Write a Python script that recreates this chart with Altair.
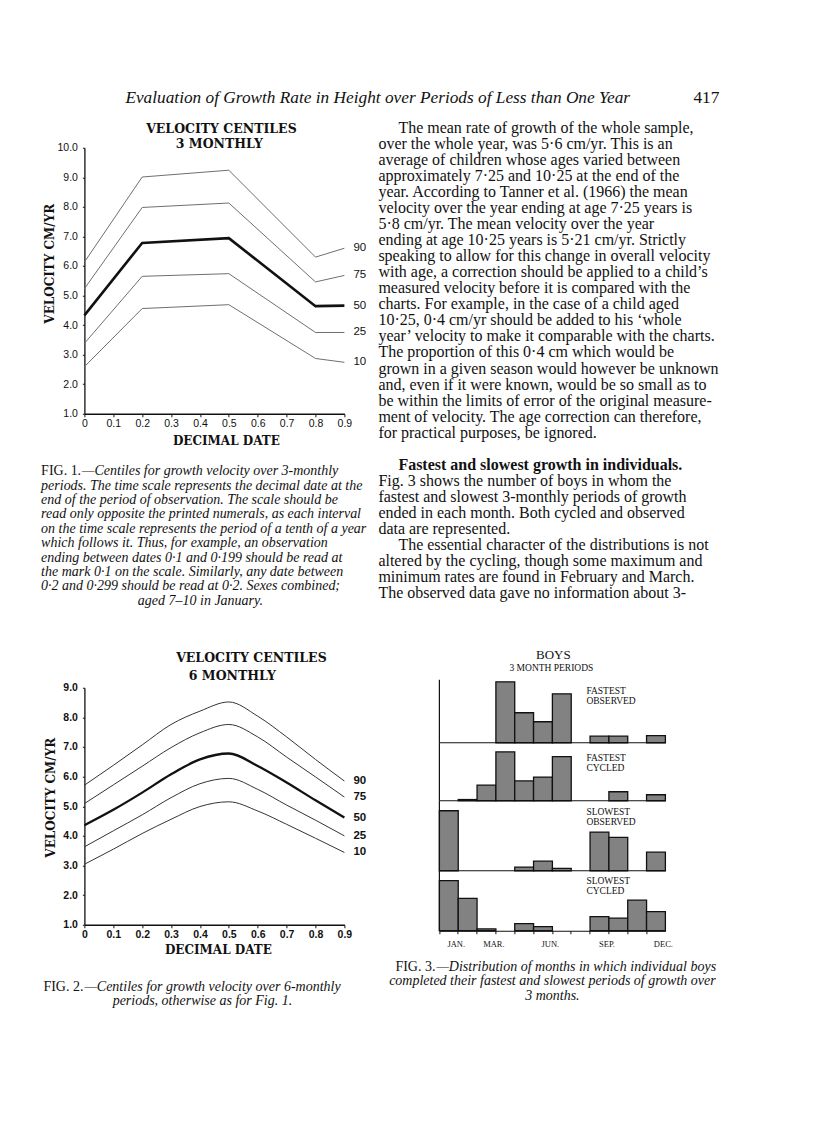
import altair as alt
import pandas as pd

SERIF = "Liberation Serif"
SANS = "Liberation Sans"
WIDE = "DejaVu Serif"
INK = "#111111"

# ---------------- page text ----------------
header_title = "Evaluation of Growth Rate in Height over Periods of Less than One Year"
page_number = "417"

body_lines = [
    "The mean rate of growth of the whole sample,",
    "over the whole year, was 5·6 cm/yr.  This is an",
    "average of children whose ages varied between",
    "approximately 7·25 and 10·25 at the end of the",
    "year.  According to Tanner et al. (1966) the mean",
    "velocity over the year ending at age 7·25 years is",
    "5·8 cm/yr.  The mean velocity over the year",
    "ending at age 10·25 years is 5·21 cm/yr.  Strictly",
    "speaking to allow for this change in overall velocity",
    "with age, a correction should be applied to a child’s",
    "measured velocity before it is compared with the",
    "charts.  For example, in the case of a child aged",
    "10·25, 0·4 cm/yr should be added to his ‘whole",
    "year’ velocity to make it comparable with the charts.",
    "The proportion of this 0·4 cm which would be",
    "grown in a given season would however be unknown",
    "and, even if it were known, would be so small as to",
    "be within the limits of error of the original measure-",
    "ment of velocity.  The age correction can therefore,",
    "for practical purposes, be ignored.",
    "",
    "Fastest and slowest growth in individuals.",
    "Fig. 3 shows the number of boys in whom the",
    "fastest and slowest 3-monthly periods of growth",
    "ended in each month.  Both cycled and observed",
    "data are represented.",
    "The essential character of the distributions is not",
    "altered by the cycling, though some maximum and",
    "minimum rates are found in February and March.",
    "The observed data gave no information about 3-",
]
body_para_starts = [0, 21, 26]
body_heading = [21]

caption1_lead = "FIG. 1."
caption1_lines = [
    "—Centiles for growth velocity over 3-monthly",
    "periods.  The time scale represents the decimal date at the",
    "end of the period of observation.  The scale should be",
    "read only opposite the printed numerals, as each interval",
    "on the time scale represents the period of a tenth of a year",
    "which follows it.  Thus, for example, an observation",
    "ending between dates 0·1 and 0·199 should be read at",
    "the mark 0·1 on the scale.  Similarly, any date between",
    "0·2 and 0·299 should be read at 0·2.  Sexes combined;",
    "aged 7–10 in January.",
]
caption2_lead = "FIG. 2."
caption2_lines = [
    "—Centiles for growth velocity over 6-monthly",
    "periods, otherwise as for Fig. 1.",
]
caption3_lead = "FIG. 3."
caption3_lines = [
    "—Distribution of months in which individual boys",
    "completed their fastest and slowest periods of growth over",
    "3 months.",
]

# ---------------- figure 1 & 2 data ----------------
centiles = [90, 75, 50, 25, 10]
fig1_title = ["VELOCITY  CENTILES", "3  MONTHLY"]
fig2_title = ["VELOCITY  CENTILES", "6  MONTHLY"]
y_title = "VELOCITY  CM/YR"
x_title = "DECIMAL  DATE"

dates_3m = [0.0, 0.2, 0.5, 0.8, 0.9]
vel_3m = [
    [6.13, 9.01, 9.24, 6.30, 6.60],   # 90
    [5.23, 7.98, 8.13, 5.46, 5.68],   # 75
    [4.33, 6.78, 6.94, 4.64, 4.66],   # 50
    [3.38, 5.65, 5.74, 3.75, 3.75],   # 25
    [2.59, 4.56, 4.69, 2.87, 2.74],   # 10
]

dates_6m = [0.0, 0.1, 0.2, 0.3, 0.4, 0.5, 0.6, 0.7, 0.8, 0.9]
vel_6m = [
    [5.71, 6.38, 7.07, 7.76, 8.21, 8.52, 8.04, 7.34, 6.58, 5.85],  # 90
    [5.09, 5.72, 6.35, 6.98, 7.48, 7.76, 7.34, 6.66, 5.99, 5.31],  # 75
    [4.36, 4.88, 5.46, 6.08, 6.58, 6.78, 6.36, 5.80, 5.20, 4.62],  # 50
    [3.63, 4.17, 4.71, 5.29, 5.76, 5.94, 5.57, 5.04, 4.53, 4.00],  # 25
    [3.04, 3.55, 4.08, 4.56, 4.99, 5.15, 4.84, 4.39, 3.92, 3.44],  # 10
]
x_ticks = [0.0, 0.1, 0.2, 0.3, 0.4, 0.5, 0.6, 0.7, 0.8, 0.9]

# ---------------- figure 3 data ----------------
fig3_title = ["BOYS", "3 MONTH PERIODS"]
months = ["JAN.", "FEB.", "MAR.", "APR.", "MAY", "JUN.", "JUL.", "AUG.", "SEP.", "OCT.", "NOV.", "DEC."]
month_labels = ["JAN.", "MAR.", "JUN.", "SEP.", "DEC."]
panel_names = [["FASTEST", "OBSERVED"], ["FASTEST", "CYCLED"], ["SLOWEST", "OBSERVED"], ["SLOWEST", "CYCLED"]]
fastest_observed = [0, 0, 0, 20.3, 10.0, 7.0, 16.3, 0, 2.2, 2.2, 0, 2.4]
fastest_cycled = [0, 0.4, 5.2, 16.3, 6.6, 7.9, 14.7, 0, 0, 3.0, 0, 2.0]
slowest_observed = [20.0, 0, 0, 0, 1.2, 3.2, 0.8, 0, 12.9, 11.1, 0, 6.2]
slowest_cycled = [16.7, 10.8, 0.6, 0, 2.4, 1.4, 0, 0, 4.7, 4.2, 10.2, 6.4]


# ---------------- helpers ----------------
def one_text(t, x, y, size, font=SERIF, style="normal", weight="normal", align="center", angle=0):
    kw = dict(align=align, baseline="middle", font=font, fontSize=size,
              fontStyle=style, fontWeight=weight, color=INK)
    if angle:
        kw["angle"] = angle
    return alt.Chart(pd.DataFrame({"t": [t]})).mark_text(**kw).encode(
        text="t:N", x=alt.value(x), y=alt.value(y))


def caption_layers(lead, lines, y0, lh, x_left, lead_w, x_center, centered_from, size=14):
    """Caption: first line = upright lead + italic remainder; later lines left or centred."""
    out = [one_text(lead, x_left, y0, size, align="left"),
           one_text(lines[0], x_left + lead_w, y0, size, style="italic", align="left")]
    for i in range(1, len(lines)):
        if i >= centered_from:
            out.append(one_text(lines[i], x_center, y0 + i * lh, size, style="italic"))
        else:
            out.append(one_text(lines[i], x_left, y0 + i * lh, size, style="italic", align="left"))
    return out


def centile_df(dates, series):
    rows = []
    for c, vals in zip(centiles, series):
        for d, v in zip(dates, vals):
            rows.append({"date": d, "v": v, "c": c})
    return pd.DataFrame(rows)


def centile_chart(dates, series, ymax, h, thin_color, thin_w, thick_w, weight, interp,
                  titles, title_x, title_y, ytitle_xy, xtitle_xy, extra):
    df = centile_df(dates, series)
    xenc = alt.X("date:Q", scale=alt.Scale(domain=[0, 0.9], nice=False, zero=False),
                 axis=alt.Axis(values=x_ticks, title=None, grid=False,
                               labelExpr="datum.value == 0 ? '0' : format(datum.value, '.1f')",
                               labelFlush=False, labelOverlap=False,
                               domainColor=INK, domainWidth=1.3, tickColor=INK, tickSize=3,
                               labelFont=SANS, labelFontSize=10.5, labelFontWeight=weight,
                               labelColor=INK, labelPadding=2))
    yenc = alt.Y("v:Q", scale=alt.Scale(domain=[1, ymax], nice=False, zero=False),
                 axis=alt.Axis(values=list(range(1, ymax + 1)), format=".1f", title=None, grid=False,
                               domainColor=INK, domainWidth=1.3, tickColor=INK, tickSize=2,
                               labelFont=SANS, labelFontSize=10.5, labelFontWeight=weight,
                               labelColor=INK, labelPadding=5))
    base = alt.Chart(df)
    thin = base.transform_filter("datum.c != 50").mark_line(
        color=thin_color, strokeWidth=thin_w, interpolate=interp).encode(x=xenc, y=yenc, detail="c:N")
    thick = base.transform_filter("datum.c == 50").mark_line(
        color=INK, strokeWidth=thick_w, interpolate=interp).encode(x=xenc, y=yenc)
    labels = base.transform_filter("datum.date == 0.9").mark_text(
        align="left", baseline="middle", dx=9, font=SANS, fontSize=11.5, fontWeight=weight,
        color=INK).encode(x=xenc, y=yenc, text="c:N")
    layers = [thin, thick, labels,
              one_text(titles[0], title_x[0], title_y[0], 12.5, font=WIDE, weight="bold"),
              one_text(titles[1], title_x[1], title_y[1], 12.5, font=WIDE, weight="bold"),
              one_text(y_title, ytitle_xy[0], ytitle_xy[1], 12, font=WIDE, weight="bold", angle=270),
              one_text(x_title, xtitle_xy[0], xtitle_xy[1], 12, font=WIDE, weight="bold")] + extra
    return alt.layer(*layers).properties(width=260, height=h)


BAND = 226 / 12
x_month = alt.X("m:N", sort=months,
                scale=alt.Scale(domain=months, paddingInner=0, paddingOuter=0),
                axis=alt.Axis(title=None, grid=False, domainColor=INK, domainWidth=1.2, tickColor=INK,
                              tickSize=3, bandPosition=0, labelOffset=BAND / 2 - 2,
                              labelExpr="indexof(" + str(month_labels) + ", datum.value) >= 0 ? datum.value : ''",
                              labelFont=SERIF, labelFontSize=8.5, labelColor=INK, labelPadding=6,
                              labelAngle=0))


def panel(values, ymax, base_px, top_px, with_baseline):
    df = pd.DataFrame({"m": months, "n": values})
    ysc = alt.Scale(domain=[0, ymax], range=[base_px, top_px], nice=False, zero=True)
    one = alt.Chart(pd.DataFrame({"k": [0]}))
    bars = alt.Chart(df).transform_filter("datum.n > 0").mark_bar(
        fill="#828282", stroke=INK, strokeWidth=1.3).encode(
        x=x_month, y=alt.Y("n:Q", scale=ysc, axis=None))
    edge = one.mark_rule(color=INK, strokeWidth=1.2).encode(
        x=alt.value(0), y=alt.datum(0), y2=alt.datum(ymax))
    layers = [bars, edge]
    if with_baseline:
        layers.append(one.mark_rule(color=INK, strokeWidth=1.2).encode(
            x=alt.value(0), x2=alt.value(226), y=alt.datum(0)))
    return alt.layer(*layers)


# ---------------- row 0 ----------------
header_layers = [one_text(header_title, 41, -50, 17.3, style="italic", align="left"),
                 one_text(page_number, 609, -50, 17.3, align="left")]
cap1 = caption_layers(caption1_lead, caption1_lines, 323.7, 14.35, -43.3, 41, 116, len(caption1_lines) - 1)
fig1 = centile_chart(dates_3m, vel_3m, 10, 266, "#6e6e6e", 1.0, 2.6, "normal", "linear",
                     fig1_title, (137, 135), (-19, -4), (-34, 116), (142, 293),
                     header_layers + cap1)

nb = len(body_lines)
plain_flush = [i for i in range(nb) if i not in body_para_starts and body_lines[i]]
plain_indent = [i for i in body_para_starts if i not in body_heading]


def body_block(idx, x, weight="normal"):
    df = pd.DataFrame({"t": [body_lines[i] for i in idx], "i": idx})
    return alt.Chart(df).mark_text(
        align="left", baseline="middle", font=SERIF, fontSize=16, fontWeight=weight, color=INK,
    ).encode(
        text="t:N", x=alt.value(x),
        y=alt.Y("i:Q", scale=alt.Scale(domain=[0, nb - 1], range=[-20, -20 + (nb - 1) * 16.05]), axis=None),
    )


body = alt.layer(
    body_block(plain_flush, -61),
    body_block(plain_indent, -41),
    body_block(body_heading, -41, weight="bold"),
).properties(width=226, height=266)

# ---------------- row 1 ----------------
cap2 = caption_layers(caption2_lead, caption2_lines, 299, 14.5, -41, 41, 118, 1)
fig2 = centile_chart(dates_6m, vel_6m, 9, 237, "#333333", 1.0, 2.3, "bold", "monotone",
                     fig2_title, (167, 148), (-30, -12), (-33, 110), (134, 262), cap2)

panels = alt.layer(
    panel(fastest_observed, 21, 55, -8, True),
    panel(fastest_cycled, 58 / 3, 113, 55, True),
    panel(slowest_observed, 70 / 3, 183, 113, True),
    panel(slowest_cycled, 20, 243, 183, False),
).resolve_scale(y="independent")

fig3_text = [one_text(fig3_title[0], 114, -33, 13),
             one_text(fig3_title[1], 112, -20, 9.5)]
for (a, b), yy in zip(panel_names, [3, 70.7, 124, 193.7]):
    fig3_text.append(one_text(a, 147, yy, 9.5, align="left"))
    fig3_text.append(one_text(b, 147, yy + 10, 9.5, align="left"))
cap3 = caption_layers(caption3_lead, caption3_lines, 279, 14.75, -44, 41, 113, 1)

fig3 = alt.layer(panels, *fig3_text, *cap3).properties(width=226, height=243)

chart = alt.concat(
    fig1, body, fig2, fig3, columns=2,
    spacing={"row": 274, "column": 95}, bounds="flush", align="each",
).properties(
    padding={"left": 32.4, "top": 80.75, "right": 5, "bottom": 5},
    background="white",
).configure_view(stroke=None)

chart.save("out.html", embed_options={"renderer": "svg", "actions": False})
